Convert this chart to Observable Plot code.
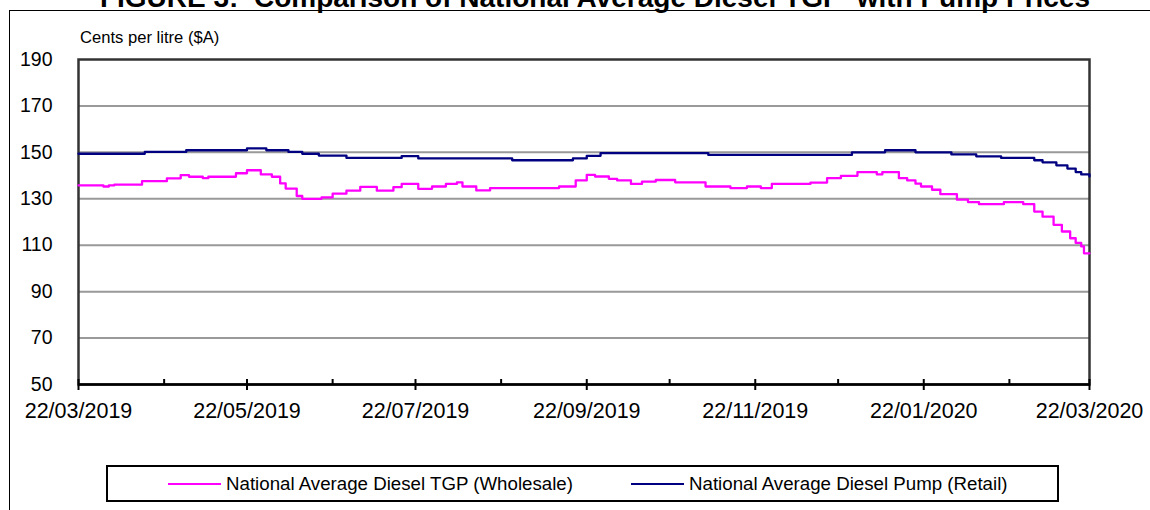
<!DOCTYPE html>
<html>
<head>
<meta charset="utf-8">
<script src="https://cdn.jsdelivr.net/npm/d3@7"></script>
<script src="https://cdn.jsdelivr.net/npm/@observablehq/plot@0.6"></script>
<style>
  html, body { margin: 0; padding: 0; background: #fff; }
  body { width: 1150px; height: 510px; overflow: hidden; position: relative; font-family: "Liberation Sans", Arial, sans-serif; }
  #frame { position: absolute; left: 9px; top: 10px; width: 1170px; height: 520px; border: 1.5px solid #000; box-sizing: border-box; }
  #title { position: absolute; left: 595px; top: -18px; transform: translateX(-50%); white-space: pre; font-weight: bold; font-size: 28px; color: #000; }
  #ylabel { position: absolute; left: 80px; top: 28px; font-size: 16.6px; color: #000; }
  #chart { position: absolute; left: 0; top: 0; }
  #legend { position: absolute; left: 106px; top: 465px; width: 953px; height: 37px; border: 2px solid #000; box-sizing: border-box; font-size: 18.7px; }
  .item { position: absolute; top: 6px; display: flex; align-items: center; white-space: nowrap; }
  .swatch { display: inline-block; width: 53px; height: 2.5px; margin-right: 5px; }
</style>
</head>
<body>
<div id="frame"></div>
<div id="chart"></div>
<div id="title">FIGURE 3:  Comparison of National Average Diesel TGP  with Pump Prices</div>
<div id="ylabel">Cents per litre ($A)</div>
<div id="legend"></div>
<script>
// ---- data ----
const seriesNames = ["National Average Diesel TGP (Wholesale)", "National Average Diesel Pump (Retail)"];
const seriesColors = ["#FF00FF", "#000080"];

const wholesaleDates = [
  "2019-03-22","2019-03-31","2019-04-02","2019-04-04","2019-04-14","2019-04-23","2019-04-28","2019-05-01",
  "2019-05-06","2019-05-08","2019-05-18","2019-05-22","2019-05-27","2019-05-31","2019-06-03","2019-06-05",
  "2019-06-09","2019-06-11","2019-06-18","2019-06-22","2019-06-27","2019-07-02","2019-07-08","2019-07-14",
  "2019-07-17","2019-07-23","2019-07-28","2019-08-02","2019-08-06","2019-08-08","2019-08-13","2019-08-18",
  "2019-09-12","2019-09-18","2019-09-22","2019-09-25","2019-09-30","2019-10-03","2019-10-08","2019-10-12",
  "2019-10-17","2019-10-24","2019-11-04","2019-11-13","2019-11-19","2019-11-24","2019-11-28","2019-12-12",
  "2019-12-18","2019-12-23","2019-12-29","2020-01-05","2020-01-07","2020-01-13","2020-01-16","2020-01-19",
  "2020-01-21","2020-01-25","2020-01-28","2020-02-03","2020-02-07","2020-02-11","2020-02-20","2020-02-27",
  "2020-03-02","2020-03-05","2020-03-09","2020-03-12","2020-03-15","2020-03-17","2020-03-19","2020-03-20",
  "2020-03-22"
];
const wholesaleValues = [
  135.8,135.3,135.8,136.1,137.6,138.8,140.2,139.5,
  138.9,139.5,141.0,142.3,140.5,139.5,136.6,134.4,
  131.2,130.0,130.6,132.2,133.5,135.1,133.5,135.0,
  136.4,134.3,135.3,136.4,137.1,135.3,133.6,134.6,
  135.3,137.9,140.3,139.6,138.6,137.9,136.4,137.4,
  138.1,137.1,135.3,134.6,135.3,134.6,136.4,137.0,
  138.9,139.9,141.5,140.5,141.5,138.9,137.9,136.5,
  135.3,133.9,132.0,129.6,128.6,127.7,128.6,127.7,
  124.5,122.3,118.8,115.9,113.0,111.0,109.5,106.5,
  106.5
];

const retailDates = [
  "2019-03-22","2019-04-15","2019-04-30","2019-05-22","2019-05-29","2019-06-06","2019-06-11","2019-06-17",
  "2019-06-27","2019-07-17","2019-07-23","2019-08-26","2019-09-17","2019-09-22","2019-09-27","2019-11-05",
  "2019-12-27","2020-01-08","2020-01-19","2020-02-01","2020-02-10","2020-02-19","2020-03-02","2020-03-05",
  "2020-03-10","2020-03-14","2020-03-17","2020-03-19","2020-03-22"
];
const retailValues = [
  149.4,150.2,150.9,151.7,150.9,150.2,149.4,148.6,
  147.6,148.4,147.4,146.6,147.4,148.5,149.7,148.9,
  150.0,150.9,150.0,149.1,148.3,147.6,146.6,145.7,
  144.4,143.0,141.5,140.5,139.6
];

const yTicks = [50, 70, 90, 110, 130, 150, 170, 190];
const monthTicks = [
  "2019-03-22","2019-04-22","2019-05-22","2019-06-22","2019-07-22","2019-08-22","2019-09-22",
  "2019-10-22","2019-11-22","2019-12-22","2020-01-22","2020-02-22","2020-03-22"
];
const labelTicks = ["2019-03-22","2019-05-22","2019-07-22","2019-09-22","2019-11-22","2020-01-22","2020-03-22"];

// ---- build ----
const parse = d3.utcParse("%Y-%m-%d");
const wholesale = wholesaleDates.map((d, i) => ({date: parse(d), value: wholesaleValues[i]}));
const retail = retailDates.map((d, i) => ({date: parse(d), value: retailValues[i]}));
const months = monthTicks.map(parse);
const labels = labelTicks.map(parse);
const fmt = d3.utcFormat("%d/%m/%Y");

const chart = Plot.plot({
  width: 1150,
  height: 510,
  marginLeft: 78,
  marginRight: 61,
  marginTop: 59,
  marginBottom: 126,
  style: {fontFamily: "Liberation Sans, Arial, sans-serif", fontSize: "18px", color: "#000", background: "transparent"},
  x: {type: "utc", domain: [parse("2019-03-22"), parse("2020-03-22")]},
  y: {domain: [50, 190]},
  marks: [
    Plot.ruleY(yTicks.slice(1, -1), {stroke: "#999", strokeWidth: 2}),
    Plot.frame({stroke: "#333", strokeWidth: 2.5}),
    Plot.line(wholesale, {x: "date", y: "value", stroke: seriesColors[0], strokeWidth: 2.3, curve: "step-after"}),
    Plot.line(retail, {x: "date", y: "value", stroke: seriesColors[1], strokeWidth: 2.3, curve: "step-after"}),
    Plot.ruleY([50], {stroke: "#000", strokeWidth: 2.5}),
    Plot.axisY({ticks: yTicks, tickSize: 0, tickPadding: 26, label: null, fontSize: 19.5}),
    Plot.axisX({ticks: months, tickSize: -5, tickFormat: () => "", label: null, stroke: "#000", strokeWidth: 2}),
    Plot.axisX({ticks: labels, tickSize: 6, tickPadding: 12, tickFormat: fmt, label: null, fontSize: 21.5, stroke: "#000", strokeWidth: 2})
  ]
});
document.getElementById("chart").appendChild(chart);

// legend
const legend = document.getElementById("legend");
const lefts = [60, 523];
seriesNames.forEach((name, i) => {
  const item = document.createElement("div");
  item.className = "item";
  item.style.left = lefts[i] + "px";
  const sw = document.createElement("span");
  sw.className = "swatch";
  sw.style.background = seriesColors[i];
  const t = document.createElement("span");
  t.textContent = name;
  item.appendChild(sw);
  item.appendChild(t);
  legend.appendChild(item);
});
</script>
</body>
</html>
